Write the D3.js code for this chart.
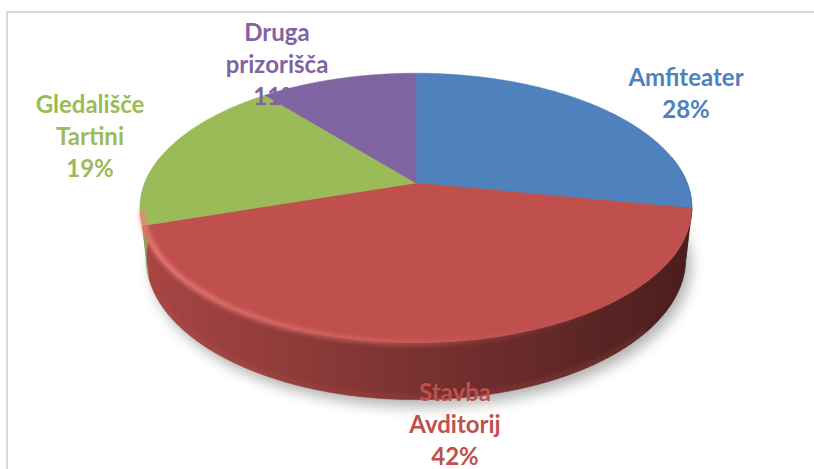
<!DOCTYPE html>
<html><head><meta charset="utf-8">
<script src="https://cdn.jsdelivr.net/npm/d3@7"></script>
<style>html,body{margin:0;padding:0;background:#fff;}svg{display:block;}</style>
</head><body>
<script>
// ---- data ----
const categories = ["Amfiteater", "Stavba Avditorij", "Gledališče Tartini", "Druga prizorišča"];
const values = [28, 42, 19, 11];
const labelLines = [["Amfiteater", "28%"], ["Stavba", "Avditorij", "42%"], ["Gledališče", "Tartini", "19%"], ["Druga", "prizorišča", "11%"]];
const colors = ["#4f81bd", "#c0504d", "#9bbb59", "#8064a2"];

// ---- layout ----
const W = 814, H = 469;
const cx = 416, cy = 183, K = 1285, D = 4.74, thick = 0.215;
const sa = 0.48, ca = Math.sqrt(1 - sa * sa);
const labelAnchor = [[686, 86], [455, 401], [90, 113], [277, 41]];
const lineGap = 32;

function proj(theta, rho, h) {
  const x = rho * Math.cos(theta), s = rho * Math.sin(theta);
  const yc = s * sa + h * ca;
  const zd = D - s * ca + h * sa;
  return [cx + K * x / zd, cy + K * yc / zd];
}

const svg = d3.select("body").append("svg").attr("width", W).attr("height", H);
const defs = svg.append("defs");
defs.append("filter").attr("id", "shadow").attr("x", "-20%").attr("y", "-20%").attr("width", "140%").attr("height", "140%")
  .append("feGaussianBlur").attr("stdDeviation", 7);
defs.append("filter").attr("id", "soft").attr("x", "-10%").attr("y", "-10%").attr("width", "120%").attr("height", "120%")
  .append("feGaussianBlur").attr("stdDeviation", 2);
const rimGrad = defs.append("linearGradient").attr("id", "rimGrad").attr("gradientUnits", "userSpaceOnUse")
  .attr("x1", 140).attr("x2", 690).attr("y1", 0).attr("y2", 0);
rimGrad.append("stop").attr("offset", 0).attr("stop-color", "#ec7f7b").attr("stop-opacity", 0.95);
rimGrad.append("stop").attr("offset", 0.45).attr("stop-color", "#de6a66").attr("stop-opacity", 0.6);
rimGrad.append("stop").attr("offset", 0.85).attr("stop-color", "#c0504d").attr("stop-opacity", 0);

// side shading gradients (light from the left)
const rx = 276;
colors.forEach((c0, i) => {
  const g = defs.append("linearGradient").attr("id", "side" + i).attr("gradientUnits", "userSpaceOnUse")
    .attr("x1", cx - rx).attr("x2", cx + rx).attr("y1", 0).attr("y2", 0);
  const c = d3.rgb(c0);
  d3.range(0, 1.0001, 0.1).forEach(o => {
    const cos = o * 2 - 1;
    const f = 0.63 - 0.25 * cos;
    g.append("stop").attr("offset", o).attr("stop-color", d3.rgb(c.r * f, c.g * f, c.b * f).toString());
  });
});

// frame
svg.append("rect").attr("x", 7).attr("y", 12).attr("width", W).attr("height", H)
  .attr("fill", "none").attr("stroke", "#d9d9d9").attr("stroke-width", 2);

const arcs = d3.pie().sort(null).value(d => d)(values);
const deg = Math.PI / 180;
const toTheta = a => a - Math.PI / 2;
const line = d3.line();

// shadow
const shadowPts = d3.range(0, 361, 2).map(t => proj(t * deg, 1.0, thick));
svg.append("path").attr("d", line(shadowPts) + "Z").attr("fill", "#000").attr("opacity", 0.3)
  .attr("transform", "translate(5,7)").attr("filter", "url(#shadow)");

// sides (front-facing part only)
const sides = svg.append("g");
arcs.forEach((a, i) => {
  const t0 = Math.max(toTheta(a.startAngle), -12 * deg), t1 = Math.min(toTheta(a.endAngle), 192 * deg);
  if (t1 <= t0) return;
  const n = Math.max(2, Math.ceil((t1 - t0) / (0.5 * deg)));
  const ts = d3.range(n + 1).map(k => t0 + (t1 - t0) * k / n);
  const pts = ts.map(t => proj(t, 1, 0)).concat(ts.slice().reverse().map(t => proj(t, 1, thick)));
  sides.append("path").attr("d", line(pts) + "Z").attr("fill", `url(#side${i})`)
    .attr("stroke", `url(#side${i})`).attr("stroke-width", 0.6);
});

// bottom rim highlight (front)
const botRim = d3.range(40, 150, 1).map(t => proj(t * deg, 0.995, thick * 0.97));
svg.append("path").attr("d", line(botRim)).attr("fill", "none").attr("stroke", "#d86a66")
  .attr("stroke-width", 1.5).attr("opacity", 0.45).attr("filter", "url(#soft)");

// top faces
svg.append("g").selectAll("path").data(arcs).join("path")
  .attr("d", a => {
    const t0 = toTheta(a.startAngle), t1 = toTheta(a.endAngle);
    const n = Math.max(2, Math.ceil((t1 - t0) / (0.5 * deg)));
    const pts = [proj(0, 0, 0)];
    for (let k = 0; k <= n; k++) pts.push(proj(t0 + (t1 - t0) * k / n, 1, 0));
    return line(pts) + "Z";
  })
  .attr("fill", (a, i) => colors[i]).attr("stroke", (a, i) => colors[i]).attr("stroke-width", 0.5);

// top rim bevel highlight
const topRim = d3.range(14, 170, 1).map(t => proj(t * deg, 0.993, 0.006));
svg.append("path").attr("d", line(topRim)).attr("fill", "none").attr("stroke", "url(#rimGrad)")
  .attr("stroke-width", 5).attr("filter", "url(#soft)");

// labels
const lg = svg.append("g").attr("font-family", "Lato, 'Open Sans', sans-serif").attr("font-weight", 700)
  .attr("font-size", 24).attr("text-anchor", "middle");
labelLines.forEach((lines, i) => {
  const t = lg.append("text").attr("fill", colors[i]);
  lines.forEach((s, j) => {
    t.append("tspan").attr("x", labelAnchor[i][0]).attr("y", labelAnchor[i][1] + j * lineGap).text(s);
  });
});
</script>
</body></html>
